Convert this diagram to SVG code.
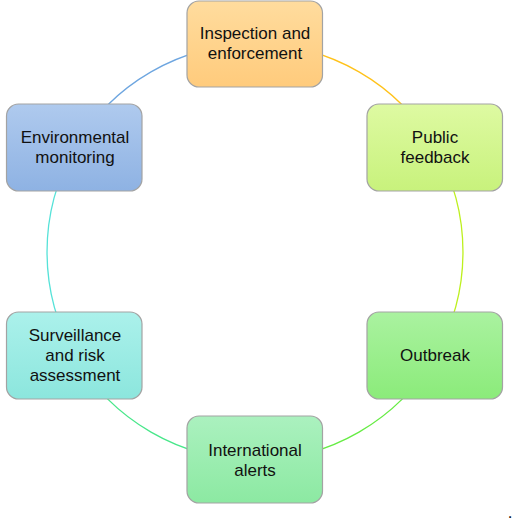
<svg xmlns="http://www.w3.org/2000/svg" width="513" height="524" viewBox="0 0 513 524">
<defs>
<linearGradient id="gOrange" x1="0" y1="0" x2="0" y2="1"><stop offset="0" stop-color="#FFDC9E"/><stop offset="1" stop-color="#FFCB7C"/></linearGradient>
<linearGradient id="gLime" x1="0" y1="0" x2="0" y2="1"><stop offset="0" stop-color="#DEFAA2"/><stop offset="1" stop-color="#C8F27C"/></linearGradient>
<linearGradient id="gGreen" x1="0" y1="0" x2="0" y2="1"><stop offset="0" stop-color="#AAF2A0"/><stop offset="1" stop-color="#8BEB7A"/></linearGradient>
<linearGradient id="gMint" x1="0" y1="0" x2="0" y2="1"><stop offset="0" stop-color="#ABF1BF"/><stop offset="1" stop-color="#8CE9A2"/></linearGradient>
<linearGradient id="gTeal" x1="0" y1="0" x2="0" y2="1"><stop offset="0" stop-color="#ABF1EB"/><stop offset="1" stop-color="#8CE6DD"/></linearGradient>
<linearGradient id="gBlue" x1="0" y1="0" x2="0" y2="1"><stop offset="0" stop-color="#AFCAEE"/><stop offset="1" stop-color="#8EB2E3"/></linearGradient>
</defs>
<style>
.box{stroke:#A3A3A3;stroke-width:1.2}
.lbl{font-family:"Liberation Sans",Arial,sans-serif;font-size:17px;fill:#111;text-anchor:middle}
.arc{fill:none;stroke-width:1.3}
</style>
<g id="connectors">
<path class="arc" stroke="#FFC21A" d="M255,44 A208,208 0 0 1 435.1,148"/>
<path class="arc" stroke="#BDF01E" d="M435.1,148 A208,208 0 0 1 435.1,356"/>
<path class="arc" stroke="#66EC44" d="M435.1,356 A208,208 0 0 1 255,460"/>
<path class="arc" stroke="#48E78A" d="M255,460 A208,208 0 0 1 74.9,356"/>
<path class="arc" stroke="#55E2D8" d="M74.9,356 A208,208 0 0 1 74.9,148"/>
<path class="arc" stroke="#6EA6E0" d="M74.9,148 A208,208 0 0 1 255,44"/>
</g>
<g id="inspection">
<rect class="box" x="187" y="1" width="135.5" height="86" rx="12" fill="url(#gOrange)"/>
<text class="lbl" x="255" y="39">Inspection and</text>
<text class="lbl" x="255" y="59">enforcement</text>
</g>
<g id="public">
<rect class="box" x="367" y="104" width="135.5" height="87" rx="12" fill="url(#gLime)"/>
<text class="lbl" x="435" y="143">Public</text>
<text class="lbl" x="435" y="163">feedback</text>
</g>
<g id="outbreak">
<rect class="box" x="367" y="312" width="135.5" height="87" rx="12" fill="url(#gGreen)"/>
<text class="lbl" x="435" y="361">Outbreak</text>
</g>
<g id="international">
<rect class="box" x="187" y="416" width="135.5" height="87" rx="12" fill="url(#gMint)"/>
<text class="lbl" x="255" y="456">International</text>
<text class="lbl" x="255" y="476">alerts</text>
</g>
<g id="surveillance">
<rect class="box" x="6.5" y="312" width="135.5" height="87" rx="12" fill="url(#gTeal)"/>
<text class="lbl" x="75" y="341">Surveillance</text>
<text class="lbl" x="75" y="361">and risk</text>
<text class="lbl" x="75" y="381">assessment</text>
</g>
<g id="environmental">
<rect class="box" x="6.5" y="104" width="135.5" height="87" rx="12" fill="url(#gBlue)"/>
<text class="lbl" x="75" y="143">Environmental</text>
<text class="lbl" x="75" y="163">monitoring</text>
</g>
<text class="lbl" x="510" y="518">.</text>
</svg>
